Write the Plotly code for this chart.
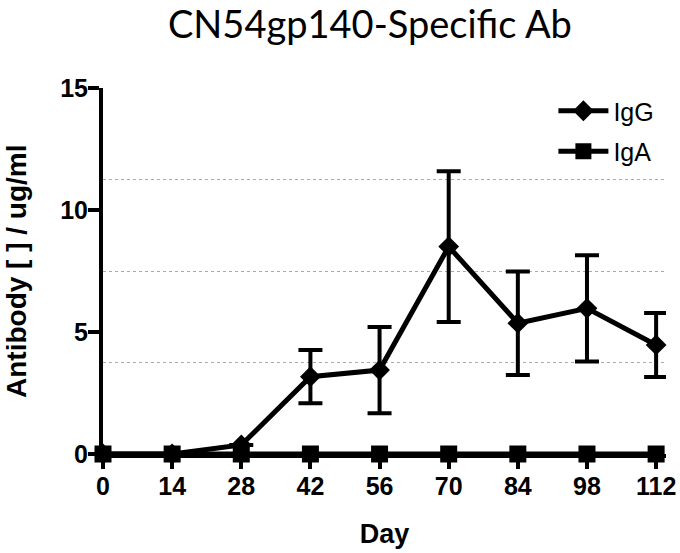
import plotly.graph_objects as go

days = [0, 14, 28, 42, 56, 70, 84, 98, 112]
igg = [0, 0, 0.37, 3.17, 3.44, 8.5, 5.36, 5.97, 4.47]
igg_err = [0, 0, 0, 1.09, 1.77, 3.09, 2.12, 2.18, 1.31]
iga = [0, 0, 0, 0, 0, 0, 0, 0, 0]
x_ticks = [0, 14, 28, 42, 56, 70, 84, 98, 112]
y_ticks = [0, 5, 10, 15]

fig = go.Figure()
fig.add_trace(go.Scatter(
    x=days, y=igg, name="IgG", mode="lines+markers",
    line=dict(color="black", width=5),
    marker=dict(symbol="diamond", size=16, color="black"),
    error_y=dict(type="data", array=igg_err, visible=True, color="black", thickness=4, width=12),
    cliponaxis=False, legendgroup="a",
))
fig.add_trace(go.Scatter(
    x=days, y=iga, name="IgA", mode="lines+markers",
    line=dict(color="black", width=5),
    marker=dict(symbol="square", size=17, color="black"),
    cliponaxis=False, legendgroup="b",
))

axis_font = dict(family="Liberation Sans, Arial, sans-serif", size=25, color="black", weight="bold")

fig.update_layout(
    template="none",
    width=680, height=553,
    margin=dict(l=103, r=14, t=88, b=99, autoexpand=False),
    paper_bgcolor="white", plot_bgcolor="white",
    hovermode=False,
    title=dict(text="CN54gp140-Specific Ab", x=0.544, xanchor="center",
               y=0.9545, yanchor="middle", yref="container",
               font=dict(family="Lato, Open Sans, sans-serif", size=38, color="black")),
    showlegend=True,
    legend=dict(x=0.80, xanchor="left", y=1.0, yanchor="top", itemwidth=50,
                font=dict(family="Liberation Sans, Arial, sans-serif", size=25, color="black"),
                bgcolor="rgba(0,0,0,0)", tracegroupgap=5, traceorder="grouped"),
    annotations=[dict(
        text="Antibody [ ] / ug/ml", textangle=-90, showarrow=False,
        xref="paper", yref="paper", x=0, y=0.5, xanchor="center", yanchor="middle", xshift=-87,
        font=dict(family="Liberation Sans, Arial, sans-serif", size=28, color="black", weight="bold"),
    )],
)
fig.update_xaxes(
    range=[0, 114], tickvals=x_ticks, ticktext=[str(v) for v in x_ticks], automargin=False,
    showline=True, linecolor="black", linewidth=4,
    ticks="outside", ticklen=11, tickwidth=4, tickcolor="black", ticklabelstandoff=-4,
    showgrid=False, zeroline=False, tickfont=axis_font,
    title=dict(text="Day", font=dict(family="Liberation Sans, Arial, sans-serif", size=27, color="black", weight="bold"), standoff=26),
)
fig.update_yaxes(
    range=[0, 15], tickvals=y_ticks, ticktext=[str(v) for v in y_ticks], automargin=False,
    showline=True, linecolor="black", linewidth=4,
    ticks="outside", ticklen=11, tickwidth=4, tickcolor="black", ticklabelstandoff=-5,
    showgrid=False, zeroline=False, tickfont=axis_font,
    minor=dict(dtick=3.75, tick0=0, showgrid=True, gridcolor="#aaaaaa", griddash="dot", gridwidth=1, ticks=""),
)

# remove the browser's default 8px body margin so the figure fills the window exactly
fig.write_html("out.html", config={"displayModeBar": False},
               post_script="document.body.style.margin='0';")
